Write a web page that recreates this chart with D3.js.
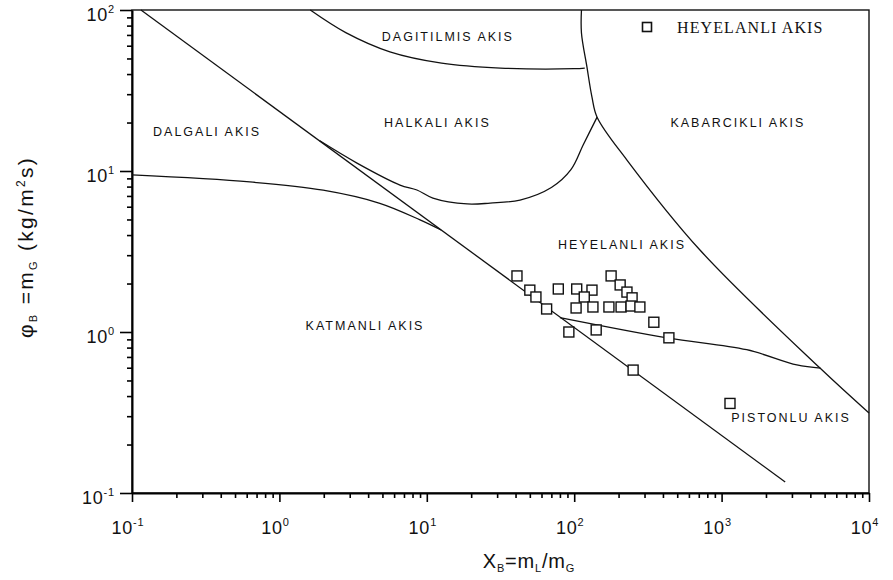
<!DOCTYPE html>
<html>
<head>
<meta charset="utf-8">
<script src="https://cdn.jsdelivr.net/npm/d3@7"></script>
<style>
  body { margin: 0; background: #fff; }
  text { font-family: "Liberation Sans", Arial, sans-serif; fill: #111; }
</style>
</head>
<body>
<svg id="chart" width="893" height="580"></svg>
<script>
// axis ranges and major ticks
const xDomain = [0.1, 10000];
const yDomain = [0.1, 100];
const xMajor = [0.1, 1, 10, 100, 1000, 10000];
const yMajor = [0.1, 1, 10, 100];

// regime boundaries, [X_B, phi_B]
const diagonalLine = [[0.115, 100], [2700, 0.117]];
const wavyLine = [[0.1, 9.45], [0.63, 8.55], [1.98, 7.6], [4.8, 6.3], [9.0, 4.97], [12.5, 4.3]];
const slugLine = [[80, 1.23], [427, 0.92], [1480, 0.776], [3240, 0.624], [4680, 0.597]];
const dispersedLine = [[1.62, 100], [2.82, 72.4], [5.62, 55], [12.6, 46.8], [31.6, 43.6], [100, 43.2], [118, 43.6]];
const bubbleLine = [[112, 100], [112, 72], [122, 44.3], [132, 28.8], [143, 21.6], [228, 11.7], [713, 3.23], [4650, 0.597], [10000, 0.314]];
const annularLine = [[1.88, 15.4], [3.36, 11.2], [6.58, 8.18], [8.57, 7.62], [11.0, 6.79], [18.8, 6.24], [26.9, 6.32], [42.9, 6.6], [70, 7.9], [95, 10.2], [115, 14.5], [143, 21.6]];

// measured points (slug flow)
const slugX = [40.9, 50, 55, 65, 78, 104, 132, 117, 103, 134, 172, 178, 205, 228, 247, 208, 243, 279, 347, 439, 141, 92, 251, 1140];
const slugY = [2.23, 1.82, 1.65, 1.39, 1.85, 1.85, 1.82, 1.65, 1.41, 1.43, 1.43, 2.23, 1.96, 1.77, 1.63, 1.43, 1.45, 1.43, 1.15, 0.92, 1.03, 1.0, 0.58, 0.36];

// region labels
const regionNames = ["DAGITILMIS AKIS", "HALKALI AKIS", "DALGALI AKIS", "KABARCIKLI AKIS", "HEYELANLI AKIS", "KATMANLI AKIS", "PISTONLU AKIS"];
const regionX = [13.9, 11.8, 0.323, 1290, 211, 3.81, 2960];
const regionY = [68, 20.1, 17.5, 19.9, 3.47, 1.1, 0.292];

const margin = { top: 10, right: 24, bottom: 87, left: 132 };
const width = 893 - margin.left - margin.right;
const height = 580 - margin.top - margin.bottom;

const svg = d3.select("#chart");
const g = svg.append("g").attr("transform", `translate(${margin.left},${margin.top})`);

const x = d3.scaleLog().domain(xDomain).range([0, width]);
const y = d3.scaleLog().domain(yDomain).range([height, 0]);

// all ticks 1..9 per decade
function decadeTicks(domain) {
    const out = [];
    for (let e = Math.log10(domain[0]); e <= Math.log10(domain[1]); e++) {
        for (let k = 1; k <= 9; k++) {
            const v = k * Math.pow(10, e);
            if (v <= domain[1] * 1.0001) out.push(v);
        }
    }
    return out;
}
const isMajor = v => Math.abs(Math.log10(v) - Math.round(Math.log10(v))) < 1e-6;

// frame
g.append("rect")
    .attr("width", width).attr("height", height)
    .attr("fill", "none").attr("stroke", "#111").attr("stroke-width", 1.4);

const xAxis = g.append("g")
    .attr("transform", `translate(0,${height})`)
    .call(d3.axisBottom(x).tickValues(decadeTicks(xDomain)).tickFormat("").tickSizeOuter(0));
xAxis.select(".domain").attr("stroke-width", 2);
xAxis.selectAll(".tick line")
    .attr("y2", d => isMajor(d) ? 9 : 5)
    .attr("stroke-width", 1.6);

const yAxis = g.append("g")
    .call(d3.axisLeft(y).tickValues(decadeTicks(yDomain)).tickFormat("").tickSizeOuter(0));
yAxis.select(".domain").attr("stroke-width", 2);
yAxis.selectAll(".tick line")
    .attr("x2", d => isMajor(d) ? -12 : -5)
    .attr("stroke-width", 1.6);

// tick labels with superscript exponent
xMajor.forEach(v => {
    const t = g.append("text")
        .attr("x", x(v) - 4).attr("y", height + 41)
        .attr("text-anchor", "middle")
        .style("font-size", "18px")
        .style("letter-spacing", "0.8px");
    t.append("tspan").text("10");
    t.append("tspan").attr("dy", -8).style("font-size", "11px").text(Math.round(Math.log10(v)));
});
yMajor.forEach(v => {
    const t = g.append("text")
        .attr("x", -17).attr("y", y(v) + 11)
        .attr("text-anchor", "end")
        .style("font-size", "18px")
        .style("letter-spacing", "0.8px");
    t.append("tspan").text("10");
    t.append("tspan").attr("dy", -8).style("font-size", "11px").text(Math.round(Math.log10(v)));
});

// boundary curves
const line = d3.line()
    .x(d => x(d[0]))
    .y(d => y(d[1]))
    .curve(d3.curveCatmullRom.alpha(0.5));

[diagonalLine, wavyLine, slugLine, dispersedLine, bubbleLine, annularLine].forEach(pts => {
    g.append("path")
        .datum(pts)
        .attr("d", line)
        .attr("fill", "none")
        .attr("stroke", "#111")
        .attr("stroke-width", 1.3);
});

// data squares
const sq = 10;
g.selectAll(".pt")
    .data(slugX.map((v, i) => [v, slugY[i]]))
    .enter().append("rect")
    .attr("class", "pt")
    .attr("x", d => x(d[0]) - sq / 2)
    .attr("y", d => y(d[1]) - sq / 2)
    .attr("width", sq).attr("height", sq)
    .attr("fill", "#fff")
    .attr("stroke", "#111")
    .attr("stroke-width", 1.4);

// region names
regionNames.forEach((name, i) => {
    g.append("text")
        .attr("x", x(regionX[i])).attr("y", y(regionY[i]))
        .attr("dy", "0.35em")
        .attr("text-anchor", "middle")
        .style("font-size", "12.5px")
        .style("letter-spacing", "2px")
        .text(name);
});

// legend
svg.append("rect")
    .attr("x", 642.5).attr("y", 22.5).attr("width", 9).attr("height", 9)
    .attr("fill", "#fff").attr("stroke", "#111").attr("stroke-width", 1.6);
svg.append("text")
    .attr("x", 677).attr("y", 33)
    .style("font-family", "'Liberation Serif', 'Times New Roman', serif")
    .style("font-size", "16px")
    .style("letter-spacing", "1.1px")
    .text("HEYELANLI AKIS");

// axis titles
const xt = svg.append("text")
    .attr("x", 529).attr("y", 568)
    .attr("text-anchor", "middle")
    .style("font-size", "20px")
    .style("letter-spacing", "0.8px");
xt.append("tspan").text("X");
xt.append("tspan").attr("dy", 4).style("font-size", "11px").text("B");
xt.append("tspan").attr("dy", -4).text("=m");
xt.append("tspan").attr("dy", 4).style("font-size", "11px").text("L");
xt.append("tspan").attr("dy", -4).text("/m");
xt.append("tspan").attr("dy", 4).style("font-size", "11px").text("G");

const yt = svg.append("text")
    .attr("transform", "translate(33,247) rotate(-90)")
    .attr("text-anchor", "middle")
    .style("font-size", "21px")
    .style("letter-spacing", "2.3px");
yt.append("tspan").text("\u03C6");
yt.append("tspan").attr("dy", 4).style("font-size", "11px").text("B");
yt.append("tspan").attr("dy", -4).text(" =m");
yt.append("tspan").attr("dy", 4).style("font-size", "11px").text("G");
yt.append("tspan").attr("dy", -4).text("  (kg/m");
yt.append("tspan").attr("dy", -8).style("font-size", "12px").text("2");
yt.append("tspan").attr("dy", 8).text("s)");
</script>
</body>
</html>
